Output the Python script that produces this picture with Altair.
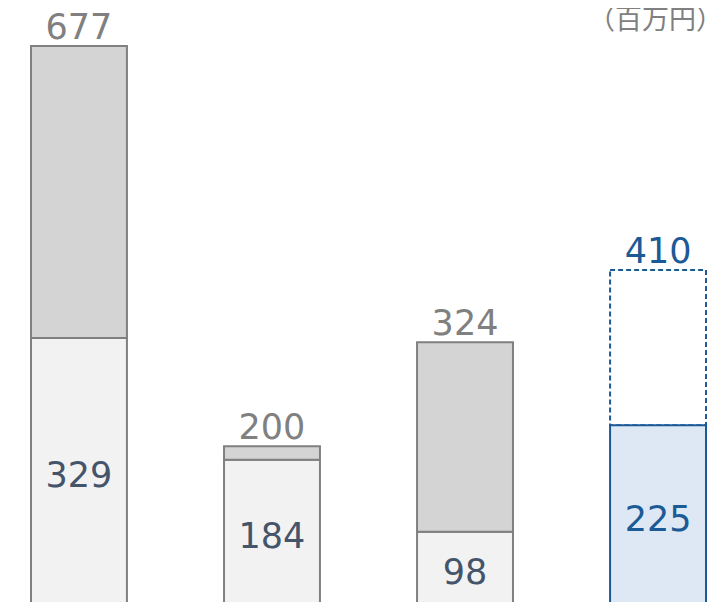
import altair as alt
import pandas as pd

categories = ["A", "B", "C", "D"]
bottom_values = [329, 184, 98, 225]
total_values = [677, 200, 324, 410]
kinds = ["actual", "actual", "actual", "plan"]
unit_label = "（百万円）"

rows = []
for c, b, t, k in zip(categories, bottom_values, total_values, kinds):
    rows.append({"cat": c, "seg": "bottom", "y0": 0, "y1": b, "kind": k, "label": str(b), "mid": b / 2, "total": t})
    rows.append({"cat": c, "seg": "top", "y0": b, "y1": t, "kind": k, "label": str(t), "mid": 0, "total": t})
df = pd.DataFrame(rows)

W, H = 702, 594
x_scale = alt.Scale(domain=categories, paddingInner=0.503, paddingOuter=0.06995, align=0.852)
y_scale = alt.Scale(domain=[14.4, 722.3], zero=False, nice=False)

x_enc = alt.X("cat:N", scale=x_scale, axis=None)

base = alt.Chart(df)


def seg_bar(seg, kind, **style):
    return base.transform_filter(
        (alt.datum.seg == seg) & (alt.datum.kind == kind)
    ).mark_bar(clip=True, strokeWidth=2, **style).encode(
        x=x_enc, y=alt.Y("y0:Q", scale=y_scale, axis=None), y2="y1:Q"
    )


bottom_gray = seg_bar("bottom", "actual", fill="#f2f2f2", stroke="#808080")
top_gray = seg_bar("top", "actual", fill="#d4d4d4", stroke="#808080")
top_blue = seg_bar("top", "plan", fill="#ffffff", stroke="#1c5a96", strokeDash=[5, 3])
bottom_blue = seg_bar("bottom", "plan", fill="#dde8f4", stroke="#1c5a96")


def label_layer(seg, kind, field, color, **style):
    return base.transform_filter(
        (alt.datum.seg == seg) & (alt.datum.kind == kind)
    ).mark_text(font="DejaVu Sans", fontSize=35, color=color, **style).encode(
        x=x_enc, y=alt.Y(field, scale=y_scale, axis=None), text="label:N"
    )


total_gray = label_layer("top", "actual", "total:Q", "#808080", baseline="alphabetic", dy=-7)
total_blue = label_layer("top", "plan", "total:Q", "#1c5a96", baseline="alphabetic", dy=-7)
inner_gray = label_layer("bottom", "actual", "mid:Q", "#44546a", baseline="middle")
inner_blue = label_layer("bottom", "plan", "mid:Q", "#1c5a96", baseline="middle")

unit_text = alt.Chart(pd.DataFrame({"t": [unit_label]})).mark_text(
    font="Noto Sans CJK JP", fontSize=27, align="right", baseline="top", color="#808080"
).encode(x=alt.value(715), y=alt.value(0), text="t:N")

chart = alt.layer(
    bottom_gray, top_gray, top_blue, bottom_blue,
    total_gray, total_blue, inner_gray, inner_blue, unit_text
).properties(
    width=W, height=H, padding=0, autosize=alt.AutoSizeParams(type="none")
).configure_view(stroke=None)

chart.save("out.html", embed_options={"renderer": "svg", "actions": False})
